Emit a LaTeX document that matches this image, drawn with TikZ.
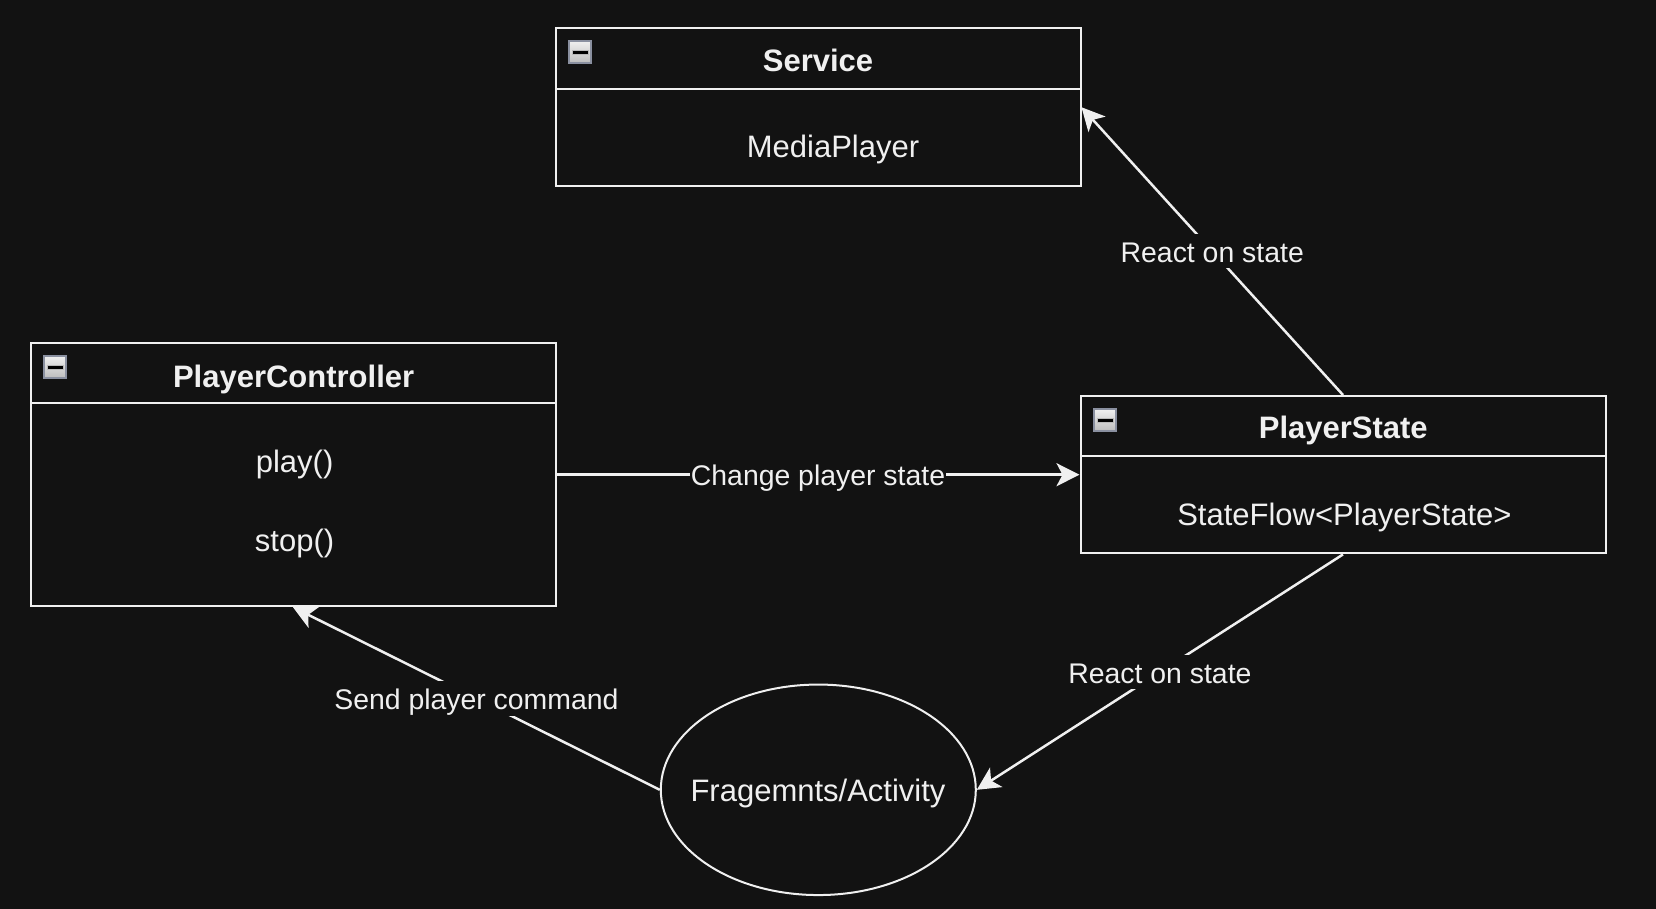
\documentclass[tikz,border=0pt]{standalone}
\usepackage{fontspec}
\setmainfont{Liberation Sans}
\usetikzlibrary{arrows.meta,shapes.geometric}
\definecolor{bg}{HTML}{121212}
\definecolor{fg}{HTML}{F0F0F0}
\definecolor{iconborder}{HTML}{8A90A0}
\newcommand{\cicon}[2]{%
  \draw[iconborder, line width=2pt, top color=white!94!black, bottom color=white!74!black] (#1+1,#2+1) rectangle (#1+23,#2+23);
  \draw[fill=black, draw=gray!55, line width=0.8pt] (#1+4,#2+10) rectangle (#1+20,#2+14);
}
\begin{document}
\begin{tikzpicture}[x=1pt,y=-1pt,
  classbox/.style={draw=fg, line width=2pt, fill=bg, rectangle, minimum width=525pt, inner sep=0pt},
  divline/.style={draw=fg, line width=2pt},
  txt/.style={text=fg, font=\fontsize{31}{37}\selectfont, anchor=base, inner sep=0pt},
  ttl/.style={text=fg, font=\fontsize{31}{37}\selectfont\bfseries, anchor=base, inner sep=0pt},
  lbl/.style={text=fg, fill=bg, font=\fontsize{28.4}{34}\selectfont, inner sep=0pt, inner xsep=1pt, text height=28.5pt, text depth=6pt},
  conn/.style={draw=fg, line width=2.5pt, -{Stealth[length=23pt,width=23pt,inset=6pt]}}
]
\fill[bg] (0,0) rectangle (1656,909);
\useasboundingbox (0,0) rectangle (1656,909);

% Service
\node[classbox, minimum height=157.5pt] (service) at (818,107.25) {};
\draw[divline] (555.5,88.7) -- (1080.5,88.7);
\cicon{568}{40}
\node[ttl] (servicettl) at (818,71.3) {Service};
\node[txt] (mediaplayer) at (833,157.7) {MediaPlayer};

% PlayerController
\node[classbox, minimum height=263pt] (pc) at (293,474.7) {};
\draw[divline] (30.5,403.4) -- (555.5,403.4);
\cicon{43}{355}
\node[ttl] (pcttl) at (293.6,387) {PlayerController};
\node[txt] (play) at (294.6,472.7) {play()};
\node[txt] (stop) at (294.6,551) {stop()};

% PlayerState
\node[classbox, minimum height=157.4pt] (ps) at (1343,474.7) {};
\draw[divline] (1080.5,456.2) -- (1605.5,456.2);
\cicon{1093}{408}
\node[ttl] (psttl) at (1343.3,438) {PlayerState};
\node[txt] (stateflow) at (1344.4,525) {StateFlow<PlayerState>};

% Fragments/Activity
\node[ellipse, draw=fg, line width=2pt, fill=bg, minimum width=315pt, minimum height=210.5pt, inner sep=0pt] (frag) at (818.3,789.8) {};
\node[txt] (fragtxt) at (818,801.5) {Fragemnts/Activity};

% connectors
\draw[conn] (pc.east) -- (ps.west) node[lbl, midway] (l1) {Change player state};
\draw[conn] (ps.north) -- (service.east) node[lbl, midway] (l2) {React on state};
\draw[conn] (ps.south) -- (frag.east) node[lbl, midway] (l3) {React on state};
\draw[conn] (frag.west) -- (pc.south) node[lbl, midway] (l4) {Send player command};
\end{tikzpicture}
\end{document}
